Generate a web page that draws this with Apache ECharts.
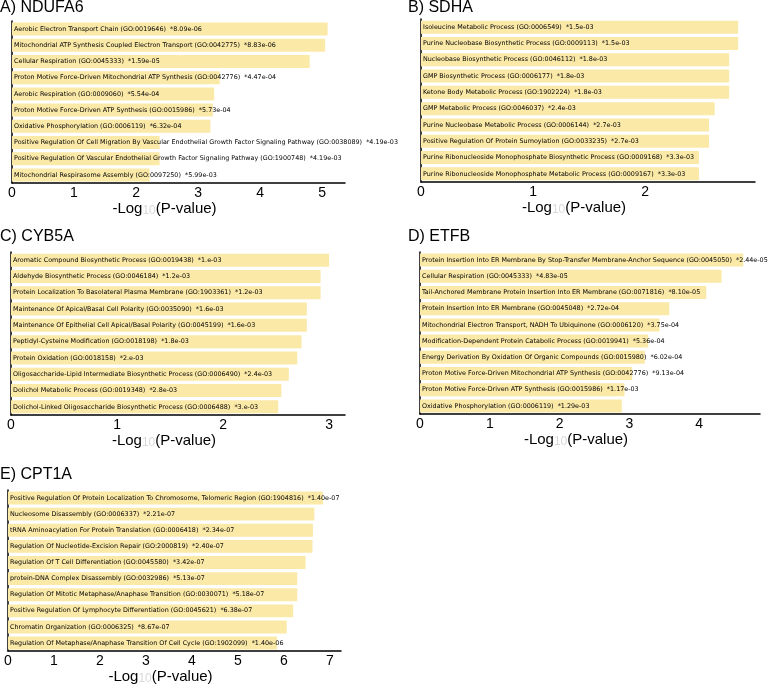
<!DOCTYPE html>
<html><head><meta charset="utf-8">
<script src="https://cdn.jsdelivr.net/npm/echarts@6/dist/echarts.min.js"></script>
<style>html,body{margin:0;padding:0;background:#fff}#c{width:778px;height:686px}</style>
</head><body><div id="c"></div>
<script>
const panelTitles = ['A) NDUFA6', 'B) SDHA', 'C) CYB5A', 'D) ETFB', 'E) CPT1A'];

const termsA = [
  'Aerobic Electron Transport Chain (GO:0019646)',
  'Mitochondrial ATP Synthesis Coupled Electron Transport (GO:0042775)',
  'Cellular Respiration (GO:0045333)',
  'Proton Motive Force-Driven Mitochondrial ATP Synthesis (GO:0042776)',
  'Aerobic Respiration (GO:0009060)',
  'Proton Motive Force-Driven ATP Synthesis (GO:0015986)',
  'Oxidative Phosphorylation (GO:0006119)',
  'Positive Regulation Of Cell Migration By Vascular Endothelial Growth Factor Signaling Pathway (GO:0038089)',
  'Positive Regulation Of Vascular Endothelial Growth Factor Signaling Pathway (GO:1900748)',
  'Mitochondrial Respirasome Assembly (GO:0097250)'
];
const pA = ['8.09e-06','8.83e-06','1.59e-05','4.47e-04','5.54e-04','5.73e-04','6.32e-04','4.19e-03','4.19e-03','5.99e-03'];
const valsA = [5.09, 5.05, 4.80, 3.35, 3.26, 3.24, 3.20, 2.38, 2.38, 2.22];

const termsB = [
  'Isoleucine Metabolic Process (GO:0006549)',
  'Purine Nucleobase Biosynthetic Process (GO:0009113)',
  'Nucleobase Biosynthetic Process (GO:0046112)',
  'GMP Biosynthetic Process (GO:0006177)',
  'Ketone Body Metabolic Process (GO:1902224)',
  'GMP Metabolic Process (GO:0046037)',
  'Purine Nucleobase Metabolic Process (GO:0006144)',
  'Positive Regulation Of Protein Sumoylation (GO:0033235)',
  'Purine Ribonucleoside Monophosphate Biosynthetic Process (GO:0009168)',
  'Purine Ribonucleoside Monophosphate Metabolic Process (GO:0009167)'
];
const pB = ['1.5e-03','1.5e-03','1.8e-03','1.8e-03','1.8e-03','2.4e-03','2.7e-03','2.7e-03','3.3e-03','3.3e-03'];
const valsB = [2.83, 2.83, 2.75, 2.75, 2.75, 2.62, 2.57, 2.57, 2.48, 2.48];

const termsC = [
  'Aromatic Compound Biosynthetic Process (GO:0019438)',
  'Aldehyde Biosynthetic Process (GO:0046184)',
  'Protein Localization To Basolateral Plasma Membrane (GO:1903361)',
  'Maintenance Of Apical/Basal Cell Polarity (GO:0035090)',
  'Maintenance Of Epithelial Cell Apical/Basal Polarity (GO:0045199)',
  'Peptidyl-Cysteine Modification (GO:0018198)',
  'Protein Oxidation (GO:0018158)',
  'Oligosaccharide-Lipid Intermediate Biosynthetic Process (GO:0006490)',
  'Dolichol Metabolic Process (GO:0019348)',
  'Dolichol-Linked Oligosaccharide Biosynthetic Process (GO:0006488)'
];
const pC = ['1.e-03','1.2e-03','1.2e-03','1.6e-03','1.6e-03','1.8e-03','2.e-03','2.4e-03','2.8e-03','3.e-03'];
const valsC = [3.00, 2.92, 2.92, 2.79, 2.79, 2.74, 2.70, 2.62, 2.55, 2.52];

const termsD = [
  'Protein Insertion Into ER Membrane By Stop-Transfer Membrane-Anchor Sequence (GO:0045050)',
  'Cellular Respiration (GO:0045333)',
  'Tail-Anchored Membrane Protein Insertion Into ER Membrane (GO:0071816)',
  'Protein Insertion Into ER Membrane (GO:0045048)',
  'Mitochondrial Electron Transport, NADH To Ubiquinone (GO:0006120)',
  'Modification-Dependent Protein Catabolic Process (GO:0019941)',
  'Energy Derivation By Oxidation Of Organic Compounds (GO:0015980)',
  'Proton Motive Force-Driven Mitochondrial ATP Synthesis (GO:0042776)',
  'Proton Motive Force-Driven ATP Synthesis (GO:0015986)',
  'Oxidative Phosphorylation (GO:0006119)'
];
const pD = ['2.44e-05','4.83e-05','8.10e-05','2.72e-04','3.75e-04','5.36e-04','6.02e-04','9.13e-04','1.17e-03','1.29e-03'];
const valsD = [4.63, 4.32, 4.10, 3.57, 3.43, 3.27, 3.22, 3.04, 2.93, 2.89];

const termsE = [
  'Positive Regulation Of Protein Localization To Chromosome, Telomeric Region (GO:1904816)',
  'Nucleosome Disassembly (GO:0006337)',
  'tRNA Aminoacylation For Protein Translation (GO:0006418)',
  'Regulation Of Nucleotide-Excision Repair (GO:2000819)',
  'Regulation Of T Cell Differentiation (GO:0045580)',
  'protein-DNA Complex Disassembly (GO:0032986)',
  'Regulation Of Mitotic Metaphase/Anaphase Transition (GO:0030071)',
  'Positive Regulation Of Lymphocyte Differentiation (GO:0045621)',
  'Chromatin Organization (GO:0006325)',
  'Regulation Of Metaphase/Anaphase Transition Of Cell Cycle (GO:1902099)'
];
const pE = ['1.40e-07','2.21e-07','2.34e-07','2.40e-07','3.42e-07','5.13e-07','5.18e-07','6.38e-07','8.67e-07','1.40e-06'];
const valsE = [6.85, 6.66, 6.63, 6.62, 6.47, 6.29, 6.29, 6.20, 6.06, 5.85];

const panels = [
  {terms: termsA, p: pA, vals: valsA},
  {terms: termsB, p: pB, vals: valsB},
  {terms: termsC, p: pC, vals: valsC},
  {terms: termsD, p: pD, vals: valsD},
  {terms: termsE, p: pE, vals: valsE}
];

// layout
const gridPos = [
  {left: 12, top: 21, width: 333, height: 162},
  {left: 421, top: 19, width: 334, height: 163},
  {left: 11, top: 252, width: 334, height: 163},
  {left: 420, top: 252, width: 340, height: 162},
  {left: 8, top: 490, width: 333, height: 163}
];
const axisMax = [5.37, 2.98, 3.15, 4.87, 7.24];
const titlePos = [
  {left: 0, top: 0}, {left: 408, top: 0}, {left: 0, top: 229}, {left: 408, top: 229}, {left: 0, top: 467}
];

const chart = echarts.init(document.getElementById('c'), null, {renderer: 'canvas'});
const option = {
  animation: false,
  backgroundColor: '#fff',
  title: panelTitles.map((t, i) => ({
    text: t, left: titlePos[i].left, top: titlePos[i].top, padding: 0,
    textStyle: {fontFamily: 'Liberation Sans', fontSize: 16, fontWeight: 'normal', color: '#000'}
  })),
  grid: gridPos.map(g => Object.assign({containLabel: false}, g)),
  xAxis: panels.map((pn, i) => ({
    type: 'value', gridIndex: i, min: 0, max: axisMax[i], interval: 1,
    splitLine: {show: false},
    axisTick: {show: false},
    axisLine: {show: true, lineStyle: {color: '#000', width: 1.5}},
    axisLabel: {
      show: true, margin: 3, color: '#000', fontSize: 14, fontFamily: 'Liberation Sans',
      showMaxLabel: false,
      formatter: v => (Math.abs(v - Math.round(v)) < 1e-9 ? String(Math.round(v)) : '')
    },
    name: '-Log{sub|10}(P-value)',
    nameLocation: 'middle',
    nameGap: 16,
    nameTextStyle: {
      fontFamily: 'Liberation Sans', fontSize: 15, color: '#000', padding: [0, 28, 0, 0],
      verticalAlign: 'top',
      rich: {sub: {fontFamily: 'Liberation Sans', fontSize: 12, color: '#d9d9d9', padding: [5, 0, 0, 0]}}
    }
  })),
  yAxis: panels.map((pn, i) => ({
    type: 'category', gridIndex: i, data: pn.terms, inverse: true,
    axisTick: {show: false}, axisLabel: {show: false}, splitLine: {show: false},
    axisLine: {show: true, lineStyle: {color: '#000', width: 1.5}}
  })),
  series: panels.map((pn, i) => ({
    type: 'bar', xAxisIndex: i, yAxisIndex: i, data: pn.vals, barWidth: '80%',
    silent: true,
    itemStyle: {color: '#fbe9a8'},
    label: {
      show: true, position: 'insideLeft', distance: 2, color: '#000',
      fontFamily: 'DejaVu Sans', fontSize: 6.4,
      formatter: params => pn.terms[params.dataIndex] + '  *' + pn.p[params.dataIndex]
    }
  }))
};
chart.setOption(option);
</script>
</body></html>
